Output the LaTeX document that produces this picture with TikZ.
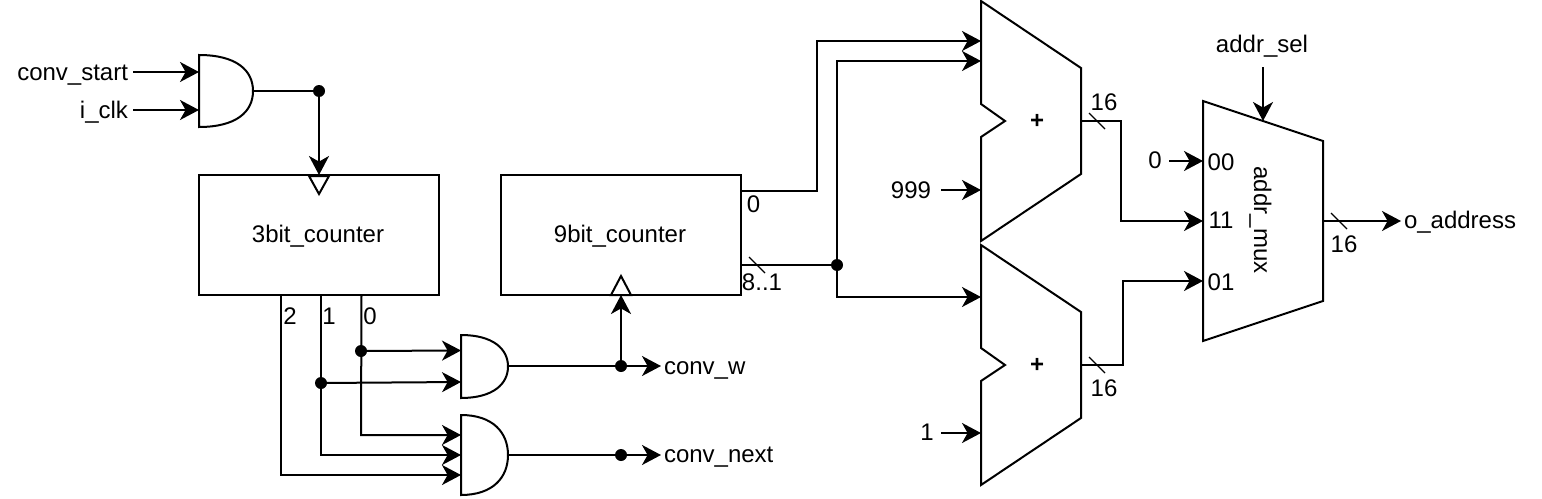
\documentclass[tikz,border=0pt]{standalone}
\usepackage{fontspec}
\setmainfont{Liberation Sans}
\usetikzlibrary{arrows.meta}
\tikzset{
  wire/.style={line width=1pt,black},
  sig/.style={wire,-{Stealth[length=9.5pt,width=10pt,inset=2.8pt]}},
  shapeline/.style={line width=1pt,black,line join=miter},
  thin tick/.style={line width=0.6pt,black},
  lab/.style={inner sep=0pt,outer sep=0pt,font=\fontsize{12}{14}\selectfont,text=black},
  labb/.style={lab,anchor=base},
  labw/.style={lab,anchor=base west},
  labe/.style={lab,anchor=base east},
  box/.style={draw,line width=1pt,inner sep=0pt,minimum width=120pt,minimum height=60pt,font=\fontsize{12}{14}\selectfont},
  dot/.style={circle,fill=black,inner sep=0pt,minimum size=6pt},
}
\newcommand{\andgate}[3]{% left x, top y, bottom y
  \draw[shapeline] (#1,#2) -- ++(0.001,0) .. controls ({#1+0.68*47},#2) and ({#1+47},{#2+0.22*(#3-#2)}) .. ({#1+47},{(#2+#3)/2})
   .. controls ({#1+47},{#3-0.22*(#3-#2)}) and ({#1+0.68*47},#3) .. (#1,#3) -- cycle;}
\begin{document}
\begin{tikzpicture}[x=0.5pt,y=-0.5pt]
\useasboundingbox (0,0) rectangle (1542,498);
\fill[white] (0,0) rectangle (1542,498);

% boxes
\node[box] (c3) at (319,235) {};
\node[box] (c9) at (621,235) {};
\node[labb] (c3t) at (318,242) {3bit\_counter};
\node[labb] (c9t) at (620,242) {9bit\_counter};
\draw[shapeline] (309,176) -- (329,176) -- (319,194) -- cycle;
\draw[shapeline] (611,295) -- (631,295) -- (621,276) -- cycle;

% first AND gate
\draw[shapeline] (199,55) .. controls (236,55) and (253,70) .. (253,91)
  .. controls (253,112) and (236,127) .. (199,127) -- cycle;
% other AND gates
\andgate{461}{335}{398}
\andgate{461}{415}{495}

% adders
\draw[shapeline] (981,1) -- (1081,68) -- (1081,174) -- (981,241) -- (981,137) -- (1005,121) -- (981,104) -- cycle;
\draw[shapeline] (981,245) -- (1081,312) -- (1081,418) -- (981,485) -- (981,381) -- (1005,365) -- (981,348) -- cycle;
\node[labb,font=\fontsize{12}{14}\selectfont\bfseries] (p1) at (1037,128) {+};
\node[labb,font=\fontsize{12}{14}\selectfont\bfseries] (p2) at (1037,372) {+};

% mux
\draw[shapeline] (1203,101) -- (1323,141) -- (1323,301) -- (1203,341) -- cycle;
\node[labb,rotate=-90] (muxt) at (1254,220) {addr\_mux};

% text labels
\node[labe] (cs) at (128,80) {conv\_start};
\node[labe] (ck) at (128,118) {i\_clk};
\node[labb] (b2) at (290,324) {2};
\node[labb] (b1) at (329,324) {1};
\node[labb] (b0) at (370,324) {0};
\node[labw] (cw) at (664,374) {conv\_w};
\node[labw] (cn) at (664,462) {conv\_next};
\node[labb] (t0) at (753.5,212) {0};
\node[labb] (t81) at (762,290) {8..1};
\node[labb] (n999) at (911,198) {999};
\node[labb] (n1) at (927,440) {1};
\node[labb] (s1) at (1104,110) {16};
\node[labb] (s2) at (1104,396) {16};
\node[labb] (s3) at (1344,252) {16};
\node[labb] (n0) at (1155,168) {0};
\node[labb] (i00) at (1221,170) {00};
\node[labb] (i11) at (1221,228) {11};
\node[labb] (i01) at (1221,290) {01};
\node[labb] (as) at (1262,53) {addr\_sel};
\node[labw] (oa) at (1404,228) {o\_address};

% dots
\node[dot] (d1) at (319,91) {};
\node[dot] (d2) at (361,351) {};
\node[dot] (d3) at (321,383) {};
\node[dot] (d4) at (621,366) {};
\node[dot] (d5) at (621,455) {};
\node[dot] (d6) at (837,265) {};

% pins
\coordinate (csS) at (133,72);  \coordinate (csE) at (199,72);
\coordinate (ckS) at (133,110); \coordinate (ckE) at (199,110);
\coordinate (g1o) at (253,91);
\coordinate (c3clk) at (319,175);
\coordinate (c9clk) at (621,295);
\coordinate (c3o2) at (281,295);
\coordinate (c3o1) at (321,295);
\coordinate (c3o0) at (361.5,295);
\coordinate (g2a) at (461,350.5);
\coordinate (g2b) at (461,382);
\coordinate (g3a) at (461,435);
\coordinate (g3b) at (461,455);
\coordinate (g3c) at (461,475);
\coordinate (g2o) at (508,366);
\coordinate (g3o) at (508,455);
\coordinate (cwS) at (661,366);
\coordinate (cnS) at (661,455);
\coordinate (c9o0) at (741,191);
\coordinate (c9o1) at (741,265);
\coordinate (a1a) at (981,41);
\coordinate (a1b) at (981,61);
\coordinate (a1c) at (981,190);
\coordinate (a2a) at (981,297);
\coordinate (a2b) at (981,433);
\coordinate (n999o) at (941,190);
\coordinate (n1o) at (941,433);
\coordinate (a1o) at (1081,121);
\coordinate (a2o) at (1081,365);
\coordinate (m00) at (1203,161);
\coordinate (m11) at (1203,221);
\coordinate (m01) at (1203,281);
\coordinate (n0o) at (1169,161);
\coordinate (mo) at (1323,221);
\coordinate (oaS) at (1401,221);
\coordinate (asS) at (1263,67);
\coordinate (msel) at (1263,121);

% connectors
\draw[sig] (csS) -- (csE);
\draw[sig] (ckS) -- (ckE);
\draw[wire] (g1o) -- (d1.center);
\draw[sig] (d1.center) -- (c3clk);

\draw[sig] (c3o2) -- (281,475) -- (g3c);
\draw[sig] (c3o1) -- (321,455) -- (g3b);
\draw[sig] (c3o0) -- (361,435) -- (g3a);
\draw[sig] (d2.center) -- (g2a);
\draw[sig] (d3.center) -- (g2b);

\draw[sig] (g2o) -- (cwS);
\draw[sig] (d4.center) -- (c9clk);
\draw[sig] (g3o) -- (cnS);

\draw[sig] (c9o0) -- (817,191) -- (817,41) -- (a1a);
\draw[wire] (c9o1) -- (d6.center);
\draw[sig] (d6.center) -- (837,61) -- (a1b);
\draw[sig] (d6.center) -- (837,297) -- (a2a);
\draw[sig] (n999o) -- (a1c);
\draw[sig] (n1o) -- (a2b);

\draw[sig] (a1o) -- (1121,121) -- (1121,221) -- (m11);
\draw[sig] (a2o) -- (1123,365) -- (1123,281) -- (m01);
\draw[sig] (n0o) -- (m00);
\draw[sig] (mo) -- (oaS);
\draw[sig] (asS) -- (msel);

% bus ticks
\draw[thin tick] (749,257) -- (765,273);
\draw[thin tick] (1089,113) -- (1105,129);
\draw[thin tick] (1089,357) -- (1105,373);
\draw[thin tick] (1331,213) -- (1347,229);
\end{tikzpicture}
\end{document}
